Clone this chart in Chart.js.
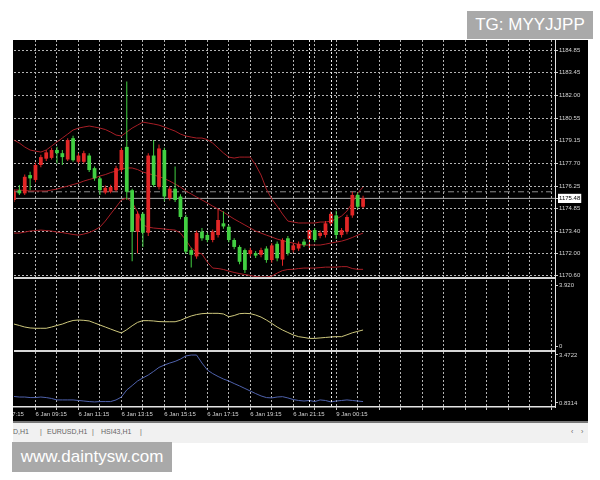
<!DOCTYPE html>
<html>
<head>
<meta charset="utf-8">
<script src="https://cdn.jsdelivr.net/npm/chart.js@4.4.1/dist/chart.umd.min.js"></script>
<style>
  html, body { margin: 0; padding: 0; background: #fff; width: 600px; height: 480px; overflow: hidden; font-family: "Liberation Sans", Arial, sans-serif; }
  #frame { position: absolute; left: 13px; top: 40px; width: 575px; height: 381px; background: #000; }
  #tabs { position: absolute; left: 13px; top: 421px; width: 575px; height: 20px; background: #f1f1f1; border-top: 2px solid #777; font-size: 7px; color: #666; }
  #tabs span { position: absolute; top: 5px; white-space: nowrap; }
  .badge { position: absolute; background: #a9a9a9; color: #fff; font-size: 17px; text-align: center; }
</style>
</head>
<body>
<div id="frame"><canvas id="chart" width="575" height="381"></canvas></div>
<div id="tabs">
  <span style="left:0px">D,H1</span>
  <span style="left:27px">|</span>
  <span style="left:34px">EURUSD,H1</span>
  <span style="left:79px">|</span>
  <span style="left:88px">HSI43,H1</span>
  <span style="left:127px">|</span>
  <span style="left:558px">&lsaquo;</span>
  <span style="left:568px">&rsaquo;</span>
</div>
<div class="badge" style="left:467px;top:11px;width:126px;height:28px;line-height:28px;">TG: MYYJJPP</div>
<div class="badge" style="left:12px;top:442px;width:160px;height:30px;line-height:30px;">www.daintysw.com</div>

<script>
// M15 bars, index 0 = first bar on the left
const opens = [
  1175.38, 1176.00, 1175.80, 1176.96, 1176.65, 1177.60, 1178.00, 1178.05, 1178.55, 1178.35,
  1177.95, 1179.30, 1177.80, 1177.80, 1178.20, 1177.40, 1176.75, 1175.85, 1175.90, 1176.00,
  1177.28, 1178.75, 1176.00, 1173.37, 1174.50, 1173.30, 1178.20, 1176.20, 1178.55, 1175.50,
  1176.10, 1175.60, 1174.30, 1172.20, 1171.80, 1173.37, 1173.16, 1172.84, 1173.16, 1173.90,
  1173.68, 1172.84, 1172.40, 1172.20, 1171.95, 1172.00, 1171.90, 1172.30, 1171.57, 1172.60,
  1171.60, 1172.95, 1172.20, 1172.30, 1172.74, 1172.90, 1173.47, 1173.10, 1173.16, 1173.90,
  1174.40, 1173.16, 1173.37, 1174.40, 1175.70, 1174.95
];
const highs = [
  1176.05, 1176.33, 1177.00, 1177.17, 1177.75, 1178.25, 1178.55, 1178.70, 1178.75, 1178.55,
  1179.30, 1179.45, 1178.35, 1178.50, 1178.35, 1177.50, 1176.85, 1176.30, 1176.35, 1177.55,
  1178.70, 1182.90, 1176.10, 1174.65, 1174.60, 1178.35, 1179.18, 1178.90, 1178.70, 1176.25,
  1177.50, 1175.75, 1174.45, 1172.35, 1173.45, 1173.60, 1173.30, 1173.50, 1174.80, 1174.65,
  1173.80, 1172.95, 1172.50, 1172.30, 1172.35, 1172.15, 1172.35, 1172.45, 1172.65, 1172.75,
  1172.95, 1173.10, 1172.65, 1172.75, 1172.90, 1173.60, 1173.60, 1173.45, 1174.05, 1174.65,
  1174.70, 1173.60, 1174.45, 1175.90, 1175.85, 1175.65
];
const lows = [
  1175.25, 1175.70, 1175.70, 1176.00, 1176.50, 1177.45, 1177.85, 1177.95, 1177.70, 1177.60,
  1177.85, 1177.80, 1177.70, 1177.70, 1177.15, 1176.60, 1175.70, 1175.75, 1175.80, 1175.90,
  1177.15, 1175.40, 1171.50, 1172.00, 1172.40, 1173.10, 1176.20, 1176.05, 1175.30, 1175.35,
  1175.25, 1174.15, 1171.95, 1171.10, 1171.65, 1172.80, 1172.70, 1172.70, 1173.00, 1173.55,
  1172.70, 1172.25, 1171.30, 1170.75, 1171.80, 1171.70, 1171.75, 1171.40, 1171.40, 1171.50,
  1171.20, 1171.85, 1172.05, 1172.15, 1172.40, 1172.20, 1172.70, 1172.95, 1173.00, 1173.75,
  1172.90, 1173.00, 1173.20, 1174.25, 1174.80, 1174.85
];
const closes = [
  1175.90, 1175.80, 1176.85, 1176.75, 1177.60, 1178.10, 1178.40, 1178.55, 1178.35, 1178.10,
  1179.18, 1177.90, 1178.20, 1178.35, 1177.28, 1176.75, 1176.00, 1176.15, 1176.20, 1177.40,
  1178.55, 1175.90, 1173.37, 1174.50, 1173.30, 1178.20, 1176.33, 1178.65, 1175.60, 1176.10,
  1175.38, 1174.30, 1172.10, 1171.90, 1173.30, 1172.95, 1172.84, 1173.37, 1174.11, 1173.70,
  1172.84, 1172.40, 1171.46, 1170.94, 1172.20, 1171.85, 1172.20, 1171.57, 1172.50, 1171.68,
  1172.84, 1172.00, 1172.50, 1172.60, 1172.53, 1173.47, 1172.84, 1173.30, 1173.90, 1174.50,
  1173.16, 1173.47, 1174.30, 1175.70, 1174.95, 1175.48
];

// Bollinger bands
const bandUpper = [
  1179.18, 1178.99, 1178.74, 1178.55, 1178.48, 1178.42, 1178.55, 1178.80, 1179.06, 1179.31,
  1179.56, 1179.82, 1179.94, 1180.01, 1180.07, 1180.01, 1179.94, 1179.85, 1179.69, 1179.50,
  1179.44, 1179.69, 1179.94, 1180.13, 1180.32, 1180.26, 1180.20, 1180.13, 1180.01, 1179.88,
  1179.75, 1179.56, 1179.44, 1179.37, 1179.31, 1179.31, 1179.21, 1178.99, 1178.68, 1178.36,
  1178.10, 1178.04, 1178.10, 1178.10, 1178.10, 1177.60, 1176.96, 1176.07, 1175.44, 1174.99,
  1174.49, 1174.04, 1173.98, 1173.92, 1173.92, 1173.92, 1173.92, 1173.98, 1173.98, 1174.04,
  1174.17, 1174.36, 1174.68, 1175.19, 1175.82, 1176.20
];
const bandMiddle = [
  1176.01, 1176.01, 1175.98, 1175.95, 1175.95, 1175.95, 1175.95, 1176.01, 1176.07, 1176.17,
  1176.26, 1176.36, 1176.45, 1176.58, 1176.68, 1176.77, 1176.90, 1176.99, 1177.12, 1177.22,
  1177.34, 1177.41, 1177.41, 1177.31, 1177.15, 1177.06, 1176.96, 1176.87, 1176.74, 1176.58,
  1176.39, 1176.20, 1175.95, 1175.76, 1175.57, 1175.38, 1175.19, 1174.99, 1174.80, 1174.61,
  1174.39, 1174.17, 1173.98, 1173.79, 1173.60, 1173.41, 1173.28, 1173.15, 1173.03, 1172.90,
  1172.81, 1172.71, 1172.65, 1172.55, 1172.52, 1172.52, 1172.52, 1172.52, 1172.58, 1172.65,
  1172.71, 1172.77, 1172.87, 1173.00, 1173.15, 1173.28
];
const bandLower = [
  1173.28, 1173.28, 1173.34, 1173.41, 1173.44, 1173.47, 1173.44, 1173.41, 1173.34, 1173.31,
  1173.25, 1173.19, 1173.15, 1173.22, 1173.31, 1173.47, 1173.66, 1174.04, 1174.49, 1174.93,
  1175.38, 1175.50, 1175.25, 1174.61, 1173.79, 1173.66, 1173.60, 1173.57, 1173.54, 1173.50,
  1173.47, 1173.28, 1172.84, 1172.33, 1172.08, 1171.95, 1171.44, 1171.06, 1171.03, 1170.97,
  1170.87, 1170.78, 1170.71, 1170.65, 1170.59, 1170.52, 1170.49, 1170.49, 1170.55, 1170.74,
  1170.90, 1170.97, 1170.98, 1171.03, 1171.06, 1171.06, 1171.06, 1171.09, 1171.12, 1171.12,
  1171.12, 1171.15, 1171.15, 1171.03, 1170.98, 1170.98
];

// indicator panes
const oscYellow = [
  1.41, 1.32, 1.22, 1.16, 1.14, 1.14, 1.14, 1.22, 1.32, 1.41,
  1.54, 1.64, 1.67, 1.65, 1.61, 1.48, 1.35, 1.22, 1.09, 0.96,
  0.84, 1.05, 1.30, 1.52, 1.63, 1.63, 1.61, 1.57, 1.56, 1.56,
  1.56, 1.65, 1.80, 1.93, 2.02, 2.08, 2.10, 2.10, 2.10, 2.06,
  1.88, 1.96, 2.08, 2.10, 2.08, 1.99, 1.86, 1.67, 1.45, 1.22,
  1.03, 0.87, 0.71, 0.60, 0.55, 0.49, 0.49, 0.52, 0.55, 0.58,
  0.60, 0.60, 0.72, 0.85, 0.94, 1.03
];
const oscBlue = [
  1.19, 1.16, 1.16, 1.13, 1.13, 1.16, 1.13, 1.08, 1.00, 1.00,
  1.00, 1.00, 0.97, 0.94, 0.91, 0.89, 0.91, 0.91, 0.91, 1.00,
  1.16, 1.55, 1.79, 2.04, 2.21, 2.37, 2.57, 2.79, 2.92, 3.03,
  3.12, 3.25, 3.42, 3.47, 3.47, 3.03, 2.65, 2.45, 2.29, 2.15,
  2.04, 1.90, 1.77, 1.63, 1.49, 1.35, 1.22, 1.13, 1.11, 1.16,
  1.18, 1.11, 1.02, 0.97, 0.94, 0.97, 0.91, 1.00, 0.97, 0.89,
  0.94, 0.97, 1.00, 0.97, 0.94, 0.91
];

const priceTicks = [1184.85, 1183.45, 1182.00, 1180.55, 1179.15, 1177.70, 1176.25, 1174.85, 1173.40, 1172.00, 1170.60];
const bidPrice = 1175.48;
const levelPrice = 1175.90;
const yellowTicks = [0, 3.92];
const blueTicks = [0.8314, 3.4722];
const timeLabels = ['6 Jan 07:15', '6 Jan 09:15', '6 Jan 11:15', '6 Jan 13:15', '6 Jan 15:15', '6 Jan 17:15', '6 Jan 19:15', '6 Jan 21:15', '9 Jan 00:15'];
const timeLabelBars = [-4, 4, 12, 20, 28, 36, 44, 52, 60];
const separatorBars = [55, 59];

const RED = '#e22626';
const GREEN = '#42d042';
const BAND = '#a81e26';
const GRID = '#b4b4b4';
const TEXT = '#d4d4d4';
const FONT = { family: 'Liberation Sans', size: 6 };

const gridBars = [];
for (let b = 4; b <= 100; b += 4) gridBars.push(b);

const candleColors = opens.map((o, i) => closes[i] >= o ? RED : GREEN);
const xy = arr => arr.map((v, i) => ({ x: i, y: v }));
const flatLine = v => [{ x: 0, y: v }, { x: 102, y: v }];

const paneLines = {
  id: 'paneLines',
  afterDraw(chart) {
    const { ctx, chartArea, scales } = chart;
    ctx.save();
    ctx.strokeStyle = '#d6d6d6';
    ctx.lineWidth = 2;
    [scales.y1.top, scales.y2.top].forEach(yy => {
      ctx.beginPath();
      ctx.moveTo(chartArea.left, yy);
      ctx.lineTo(chartArea.right, yy);
      ctx.stroke();
    });
    ctx.strokeStyle = '#eeeeee';
    ctx.lineWidth = 1;
    ctx.setLineDash([2, 2]);
    separatorBars.forEach(b => {
      const xx = Math.round(scales.x.getPixelForValue(b)) + 0.5;
      ctx.beginPath();
      ctx.moveTo(xx, chartArea.top);
      ctx.lineTo(xx, chartArea.bottom);
      ctx.stroke();
    });
    ctx.restore();
  }
};

const fixPad = s => { s.paddingLeft = 0; s.paddingRight = 0; s.paddingTop = 0; s.paddingBottom = 0; };

new Chart(document.getElementById('chart'), {
  type: 'bar',
  data: {
    datasets: [
      {
        type: 'line', data: flatLine(bidPrice), yAxisID: 'y',
        borderColor: '#a8a8a8', borderWidth: 1, pointRadius: 0, order: 5
      },
      {
        type: 'line', data: flatLine(levelPrice), yAxisID: 'y',
        borderColor: '#8c8c8c', borderWidth: 1, borderDash: [6, 3, 2, 3], pointRadius: 0, order: 5
      },
      {
        type: 'line', data: xy(bandUpper), yAxisID: 'y',
        borderColor: BAND, borderWidth: 1, pointRadius: 0, order: 3
      },
      {
        type: 'line', data: xy(bandMiddle), yAxisID: 'y',
        borderColor: BAND, borderWidth: 1, pointRadius: 0, order: 3
      },
      {
        type: 'line', data: xy(bandLower), yAxisID: 'y',
        borderColor: BAND, borderWidth: 1, pointRadius: 0, order: 3
      },
      {
        type: 'bar', data: lows.map((l, i) => ({ x: i, y: [l, highs[i]] })), yAxisID: 'y',
        backgroundColor: candleColors, grouped: false, maxBarThickness: 1, order: 2
      },
      {
        type: 'bar', data: opens.map((o, i) => ({ x: i, y: [o, closes[i]] })), yAxisID: 'y',
        backgroundColor: candleColors, grouped: false, barPercentage: 0.7, categoryPercentage: 1,
        borderSkipped: false, order: 1
      },
      {
        type: 'line', data: xy(oscYellow), yAxisID: 'y1',
        borderColor: '#cdc77c', borderWidth: 1, pointRadius: 0
      },
      {
        type: 'line', data: xy(oscBlue), yAxisID: 'y2',
        borderColor: '#4f62ad', borderWidth: 1, pointRadius: 0
      }
    ]
  },
  options: {
    responsive: false,
    animation: false,
    layout: { padding: { left: 1, right: 0, top: 0, bottom: 0 } },
    plugins: { legend: { display: false }, tooltip: { enabled: false } },
    scales: {
      x: {
        type: 'linear', min: 0, max: 100.74, offset: false,
        afterBuildTicks: s => { s.ticks = [-4, ...gridBars].map(v => ({ value: v })); },
        afterFit: s => { s.height = 14; fixPad(s); },
        grid: { color: GRID, lineWidth: 1, offset: false, drawTicks: true, tickLength: 3, tickColor: '#c8c8c8' },
        border: { display: true, color: '#e4e4e4', width: 1.5, dash: [2, 2] },
        ticks: {
          color: TEXT, font: FONT, align: 'start', padding: 1,
          maxRotation: 0, minRotation: 0, autoSkip: false,
          callback: v => { const k = timeLabelBars.indexOf(v); return k >= 0 ? timeLabels[k] : ''; }
        }
      },
      y: {
        type: 'linear', position: 'right', stack: 'panes', stackWeight: 238,
        min: 1170.43, max: 1185.53,
        afterBuildTicks: s => { s.ticks = [...priceTicks, bidPrice].map(v => ({ value: v })); },
        afterFit: s => { s.width = 33; fixPad(s); },
        grid: {
          color: c => (c.tick && c.tick.value === bidPrice) ? 'rgba(0,0,0,0)' : GRID,
          drawTicks: true, tickLength: 3, tickColor: '#d0d0d0'
        },
        border: { display: true, color: '#e4e4e4', dash: [2, 2] },
        ticks: {
          font: FONT, padding: 1,
          color: c => (c.tick && c.tick.value === bidPrice) ? '#000' : TEXT,
          showLabelBackdrop: c => !!(c.tick && c.tick.value === bidPrice),
          backdropColor: '#ffffff', backdropPadding: 1,
          callback: v => v.toFixed(2)
        }
      },
      y1: {
        type: 'linear', position: 'right', stack: 'panes', stackWeight: 73,
        min: -0.32, max: 4.37,
        afterBuildTicks: s => { s.ticks = yellowTicks.map(v => ({ value: v })); },
        afterFit: s => { s.width = 33; fixPad(s); },
        grid: { drawOnChartArea: false, drawTicks: true, tickLength: 3, tickColor: '#d0d0d0' },
        border: { display: true, color: '#e4e4e4' },
        ticks: { color: TEXT, font: FONT, padding: 1, callback: v => v === 0 ? '0' : v.toFixed(3) }
      },
      y2: {
        type: 'linear', position: 'right', stack: 'panes', stackWeight: 56,
        min: 0.611, max: 3.692,
        afterBuildTicks: s => { s.ticks = blueTicks.map(v => ({ value: v })); },
        afterFit: s => { s.width = 33; fixPad(s); },
        grid: { drawOnChartArea: false, drawTicks: true, tickLength: 3, tickColor: '#d0d0d0' },
        border: { display: true, color: '#e4e4e4' },
        ticks: { color: TEXT, font: FONT, padding: 1, callback: v => v.toFixed(4) }
      }
    }
  },
  plugins: [paneLines]
});
</script>
</body>
</html>
